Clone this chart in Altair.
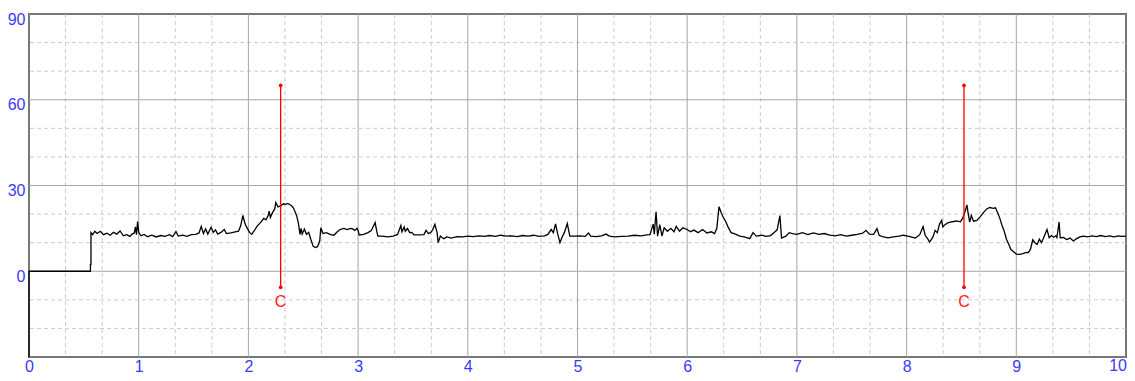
import altair as alt
import pandas as pd

sig_x = [0, 0, 0.56, 0.56, 0.565, 0.565, 0.58, 0.60, 0.62, 0.65, 0.68, 0.71, 0.74, 0.77, 0.80, 0.83, 0.86, 0.89,
         0.92, 0.94, 0.96, 0.97, 0.98, 0.99, 1.00, 1.02, 1.05, 1.08, 1.12, 1.16, 1.20, 1.24, 1.28, 1.31, 1.34,
         1.36, 1.40, 1.44, 1.48, 1.52, 1.55, 1.57, 1.59, 1.61, 1.63, 1.66, 1.68, 1.70, 1.72, 1.75, 1.78, 1.80,
         1.84, 1.88, 1.91, 1.93, 1.95, 1.97, 1.99, 2.01, 2.03, 2.05, 2.08, 2.11, 2.14, 2.16, 2.18, 2.19, 2.20,
         2.22, 2.24, 2.25, 2.27, 2.30, 2.32, 2.34, 2.36, 2.39, 2.41, 2.44, 2.455, 2.47, 2.48, 2.49, 2.51, 2.53,
         2.55, 2.57, 2.59, 2.61, 2.63, 2.65, 2.66, 2.68, 2.71, 2.75, 2.78, 2.81, 2.835, 2.87, 2.90, 2.93, 2.95,
         2.97, 2.99, 3.00, 3.01, 3.05, 3.09, 3.12, 3.155, 3.17, 3.18, 3.22, 3.27, 3.32, 3.36, 3.39, 3.40, 3.42,
         3.43, 3.45, 3.47, 3.49, 3.51, 3.55, 3.60, 3.62, 3.64, 3.66, 3.68, 3.70, 3.72, 3.73, 3.75, 3.78, 3.81,
         3.85, 3.90, 3.95, 4.00, 4.05, 4.10, 4.15, 4.20, 4.25, 4.30, 4.35, 4.40, 4.45, 4.50, 4.55, 4.60, 4.65,
         4.70, 4.73, 4.76, 4.78, 4.80, 4.82, 4.84, 4.86, 4.88, 4.907, 4.93, 4.98, 5.02, 5.07, 5.10, 5.12, 5.17,
         5.22, 5.26, 5.29, 5.34, 5.40, 5.46, 5.52, 5.58, 5.63, 5.66, 5.69, 5.70, 5.716, 5.73, 5.75, 5.77, 5.79,
         5.82, 5.85, 5.88, 5.90, 5.93, 5.96, 6.00, 6.03, 6.06, 6.10, 6.14, 6.18, 6.22, 6.25, 6.27, 6.29, 6.31,
         6.33, 6.35, 6.37, 6.40, 6.44, 6.48, 6.52, 6.57, 6.60, 6.63, 6.68, 6.72, 6.76, 6.79, 6.82, 6.845, 6.86,
         6.90, 6.93, 6.96, 7.00, 7.05, 7.10, 7.15, 7.20, 7.25, 7.30, 7.35, 7.40, 7.45, 7.50, 7.55, 7.60, 7.63,
         7.66, 7.70, 7.73, 7.75, 7.79, 7.83, 7.88, 7.93, 7.97, 8.00, 8.04, 8.08, 8.12, 8.15, 8.17, 8.19, 8.21,
         8.24, 8.26, 8.28, 8.30, 8.32, 8.33, 8.35, 8.38, 8.40, 8.43, 8.46, 8.49, 8.51, 8.53, 8.55, 8.56, 8.575,
         8.59, 8.61, 8.64, 8.67, 8.70, 8.73, 8.76, 8.79, 8.81, 8.83, 8.85, 8.87, 8.89, 8.91, 8.93, 8.95, 8.97,
         9.00, 9.03, 9.06, 9.09, 9.11, 9.13, 9.15, 9.17, 9.19, 9.21, 9.23, 9.25, 9.28, 9.30, 9.32, 9.34, 9.36,
         9.37, 9.39, 9.40, 9.43, 9.46, 9.49, 9.52, 9.55, 9.58, 9.61, 9.65, 9.69, 9.73, 9.77, 9.81, 9.85, 9.89,
         9.93, 9.96, 10.0]
sig_y = [-30, 0, 0, 2.4, 2.4, 13.5, 12.8, 14.0, 13.2, 14.0, 12.8, 13.3, 12.6, 13.6, 13.0, 14.1, 12.4, 12.8,
         12.2, 13.0, 13.4, 15.5, 12.8, 17.4, 13.6, 12.4, 12.9, 12.1, 12.6, 12.0, 12.5, 12.2, 12.8, 12.1, 13.9,
         12.3, 12.6, 12.2, 12.8, 12.9, 13.4, 15.7, 13.2, 14.8, 13.0, 15.4, 13.6, 14.5, 13.0, 13.6, 14.6, 13.2,
         13.4, 13.8, 14.0, 16.0, 19.5, 16.5, 15.0, 13.6, 12.9, 14.0, 15.8, 17.0, 18.5, 18.0, 19.5, 21.0, 18.8,
         20.5, 21.8, 24.0, 22.5, 23.0, 23.6, 23.4, 23.7, 23.0, 22.2, 19.4, 17.0, 12.9, 15.0, 13.0, 14.7, 12.9,
         13.6, 11.0, 8.8, 8.3, 8.6, 10.5, 15.2, 13.2, 13.5, 12.8, 12.6, 13.8, 14.6, 15.0, 14.6, 15.0, 14.8,
         14.3, 15.0, 14.3, 12.7, 12.9, 13.5, 14.2, 17.0, 14.0, 12.3, 12.3, 12.0, 12.3, 12.9, 16.0, 13.8, 15.5,
         14.0, 15.0, 13.5, 13.6, 12.7, 12.7, 12.8, 14.3, 13.2, 13.5, 14.5, 16.4, 13.5, 10.0, 12.3, 11.4, 12.0,
         11.6, 12.1, 12.0, 12.3, 12.1, 12.4, 12.2, 12.5, 12.2, 12.6, 12.3, 12.4, 12.1, 12.5, 12.3, 12.6, 12.2,
         12.4, 12.9, 14.6, 13.5, 16.6, 13.0, 10.0, 12.0, 13.5, 16.7, 12.3, 12.3, 12.4, 12.2, 13.4, 12.3, 12.1,
         12.4, 13.0, 12.3, 12.0, 12.2, 12.3, 12.6, 12.4, 12.7, 12.8, 16.5, 13.0, 20.8, 12.3, 16.3, 12.3, 15.2,
         14.0, 15.0, 13.8, 15.7, 14.0, 15.2, 14.6, 13.8, 14.4, 13.5, 14.6, 13.4, 13.8, 13.2, 15.0, 22.6, 20.5,
         18.8, 17.5, 15.7, 13.5, 13.0, 12.3, 12.0, 11.4, 13.5, 12.3, 12.6, 12.2, 12.5, 13.5, 14.5, 19.5, 11.6,
         12.3, 13.5, 13.2, 12.9, 13.5, 12.8, 13.4, 12.9, 13.2, 12.6, 12.4, 12.8, 12.3, 12.6, 12.9, 13.3, 14.3,
         13.0, 12.9, 14.9, 12.5, 12.0, 11.7, 12.0, 12.3, 12.6, 12.4, 12.0, 11.6, 12.8, 15.6, 12.5, 11.5, 10.2,
         12.0, 14.3, 13.5, 16.5, 17.8, 15.5, 16.3, 17.0, 17.2, 17.4, 17.6, 17.3, 18.5, 20.5, 23.2, 20.5, 17.2,
         19.5, 17.5, 17.8, 19.0, 20.5, 21.8, 22.3, 22.0, 22.2, 20.5, 18.5, 16.0, 14.0, 11.2, 9.5, 7.7, 7.0,
         6.0, 5.9, 6.2, 6.6, 6.5, 7.8, 11.0, 10.0, 9.4, 11.2, 10.0, 11.8, 14.6, 11.7, 12.5, 11.9, 12.4,
         11.8, 17.2, 11.7, 11.8, 11.1, 11.6, 10.6, 11.4, 12.0, 12.3, 12.0, 12.4, 12.1, 12.5, 12.1, 12.4, 12.0,
         12.4, 12.2, 12.3]

marker_x = [2.294, 8.523]
marker_top = [65, 65]
marker_bottom = [-5.6, -5.6]
marker_label = ["C", "C"]
label_y = [-10.8, -10.8]

x_ticks = [0, 1, 2, 3, 4, 5, 6, 7, 8, 9, 10]
x_last_tick = [10]
x_last_label = ["10"]
y_ticks = [0, 30, 60, 90]
y_major = [-30, 0, 30, 60, 90]
x_minor = [0.333, 0.667, 1.333, 1.667, 2.333, 2.667, 3.333, 3.667, 4.333, 4.667, 5.333, 5.667,
           6.333, 6.667, 7.333, 7.667, 8.333, 8.667, 9.333, 9.667]
y_minor = [-20, -10, 10, 20, 40, 50, 70, 80]

sig = pd.DataFrame({"x": sig_x, "y": sig_y, "i": list(range(len(sig_x)))})
markers = pd.DataFrame({"x": marker_x, "top": marker_top, "bottom": marker_bottom,
                        "label": marker_label, "ly": label_y})
ends = pd.DataFrame({"x": marker_x + marker_x, "y": marker_top + marker_bottom})

XS = alt.Scale(domain=[0, 10], nice=False, zero=False)
YS = alt.Scale(domain=[-30, 90], nice=False, zero=False)
BLUE = "#3a3aff"
FONT = "Liberation Sans"

AX = alt.Axis(values=x_ticks[:-1], grid=False, domain=False, ticks=False, labelFlush=False,
              labelColor=BLUE, labelFont=FONT, labelFontSize=16, labelPadding=1, format="d")
AY = alt.Axis(values=y_ticks, grid=False, domain=False, ticks=False, labelFlush=False,
              labelColor=BLUE, labelFont=FONT, labelFontSize=16, labelPadding=4,
              labelOffset=5, format="d")


def ex(field):
    return alt.X(field, scale=XS, axis=AX, title=None)


def ey(field):
    return alt.Y(field, scale=YS, axis=AY, title=None)


minor_x = alt.Chart(pd.DataFrame({"v": x_minor})).mark_rule(
    color="#cccccc", strokeDash=[4, 3], strokeWidth=1).encode(x=ex("v:Q"))
minor_y = alt.Chart(pd.DataFrame({"v": y_minor})).mark_rule(
    color="#cccccc", strokeDash=[4, 3], strokeWidth=1).encode(y=ey("v:Q"))
major_x = alt.Chart(pd.DataFrame({"v": x_ticks})).mark_rule(
    color="#a6a6a6", strokeWidth=1).encode(x=ex("v:Q"))
major_y = alt.Chart(pd.DataFrame({"v": y_major})).mark_rule(
    color="#a6a6a6", strokeWidth=1).encode(y=ey("v:Q"))

line = alt.Chart(sig).mark_line(color="#000000", strokeWidth=1.3, interpolate="linear").encode(
    x=ex("x:Q"), y=ey("y:Q"), order="i:Q",
)

rules = alt.Chart(markers).mark_rule(color="#ff0000", strokeWidth=1.3).encode(
    x=ex("x:Q"), y=ey("bottom:Q"), y2="top:Q",
)
dots = alt.Chart(ends).mark_point(color="#ff0000", filled=True, size=14, opacity=1).encode(
    x=ex("x:Q"), y=ey("y:Q"),
)
labels = alt.Chart(markers).mark_text(color="#ff2020", font=FONT, fontSize=16, baseline="middle").encode(
    x=ex("x:Q"), y=ey("ly:Q"), text="label:N",
)
last_label = alt.Chart(pd.DataFrame({"v": x_last_tick, "t": x_last_label})).mark_text(
    color=BLUE, font=FONT, fontSize=16, baseline="top", align="right", dx=1).encode(
    x=ex("v:Q"), y=alt.value(344), text="t:N",
)

chart = alt.layer(minor_x, minor_y, major_x, major_y, line, rules, dots, labels, last_label).properties(
    width=1097, height=343,
    autosize=alt.AutoSizeParams(type="none"),
    padding={"left": 21, "top": 6, "right": 1, "bottom": 16},
    background="#ffffff",
).configure_view(stroke="#4a4a4a", strokeWidth=2)

chart.save("out.html", embed_options={"renderer": "svg", "actions": False})
